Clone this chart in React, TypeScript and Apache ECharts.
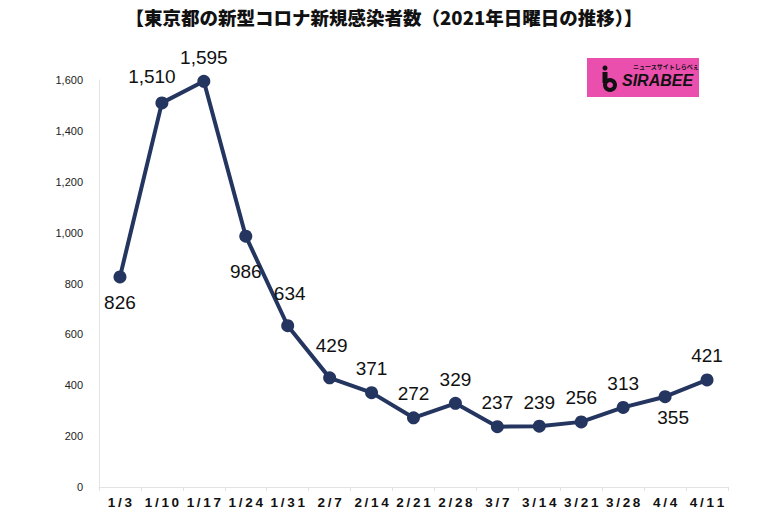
import React, { useEffect, useRef } from "react";
import * as echarts from "echarts";

const categories = ["1/3", "1/10", "1/17", "1/24", "1/31", "2/7", "2/14", "2/21", "2/28", "3/7", "3/14", "3/21", "3/28", "4/4", "4/11"];
const values = [826, 1510, 1595, 986, 634, 429, 371, 272, 329, 237, 239, 256, 313, 355, 421];
const labelPlacement = ["bottom", "topleft", "top", "bottom", "top", "top", "top", "top", "top", "top", "top", "top", "top", "bottom", "top"];
const yTicks = [0, 200, 400, 600, 800, 1000, 1200, 1400, 1600];

const TITLE = "【東京都の新型コロナ新規感染者数（2021年日曜日の推移）】";

export default function App() {
  const ref = useRef<HTMLDivElement>(null);
  useEffect(() => {
    if (!ref.current) return;
    const chart = echarts.init(ref.current, null, { renderer: "svg" });
    const data = values.map((v, i) => {
      const p = labelPlacement[i];
      let label: any = { position: "top", distance: 8 };
      if (p === "bottom") label = { position: "bottom", distance: i === 3 ? 19 : i === 0 ? 10 : 5, offset: i === 13 ? [8, 0] : [0, 0] };
      if (p === "topleft") label = { position: "top", distance: 10, offset: [-10, 0] };
      if (i === 4 || i === 5) label = { position: "top", distance: 16, offset: [2, 0] };
      return { value: v, label };
    });
    chart.setOption({
      animation: false,
      backgroundColor: "#ffffff",
      title: {
        text: TITLE,
        left: "center",
        top: 3,
        textStyle: { fontFamily: "Noto Sans CJK JP", fontWeight: 900, fontSize: 18.5, color: "#111" },
      },
      grid: { left: 99, right: 40, top: 80, bottom: 29, containLabel: false },
      xAxis: {
        type: "category",
        data: categories,
        boundaryGap: true,
        axisLine: { lineStyle: { color: "#e3e3e3", width: 1 } },
        axisTick: { show: true, lineStyle: { color: "#e3e3e3" }, length: 4 },
        axisLabel: {
          color: "#111",
          fontFamily: "Liberation Sans",
          fontWeight: "bold",
          fontSize: 13.5,
          margin: 8,
          interval: 0,
          formatter: (s: string) => s.split("").join("\u2009"),
        },
      },
      yAxis: {
        type: "value",
        min: 0,
        max: 1600,
        interval: 200,
        axisLine: { show: true, lineStyle: { color: "#e3e3e3", width: 1 } },
        axisTick: { show: false },
        splitLine: { show: false },
        axisLabel: {
          color: "#222",
          fontFamily: "Liberation Sans",
          fontSize: 11,
          margin: 16,
          formatter: (v: number) => (yTicks.includes(v) ? v.toLocaleString("en-US") : ""),
        },
      },
      series: [
        {
          type: "line",
          data,
          symbol: "circle",
          symbolSize: 13,
          lineStyle: { color: "#243560", width: 4 },
          itemStyle: { color: "#243560" },
          label: {
            show: true,
            color: "#111",
            fontFamily: "Liberation Sans",
            fontSize: 19,
            fontWeight: "normal",
            formatter: (p: any) => Number(p.value).toLocaleString("en-US"),
          },
        },
      ],
      graphic: [
        {
          type: "group",
          left: 587,
          top: 58,
          children: [
            { type: "rect", shape: { x: 0, y: 0, width: 112, height: 39 }, style: { fill: "#ea4fae" } },
            { type: "text", x: 46, y: 5, style: { text: "ニュースサイトしらべぇ", fontSize: 6, fill: "#111", fontFamily: "Noto Sans CJK JP", fontWeight: "bold" } },
            { type: "text", x: 35, y: 14, style: { text: "SIRABEE", fontSize: 16, fill: "#111", fontFamily: "Liberation Sans", fontWeight: "bold", fontStyle: "italic" } },
            { type: "circle", shape: { cx: 18, cy: 10, r: 2.5 }, style: { fill: "#111" } },
            { type: "rect", shape: { x: 15.5, y: 14, width: 5, height: 11 }, style: { fill: "#111" } },
            { type: "circle", shape: { cx: 23, cy: 27, r: 7 }, style: { fill: "#111" } },
            { type: "circle", shape: { cx: 23, cy: 27, r: 3 }, style: { fill: "#ea4fae" } },
          ],
        },
      ],
    });
    return () => chart.dispose();
  }, []);
  return <div ref={ref} style={{ width: 768, height: 516, position: "absolute", left: 0, top: 0 }} />;
}
